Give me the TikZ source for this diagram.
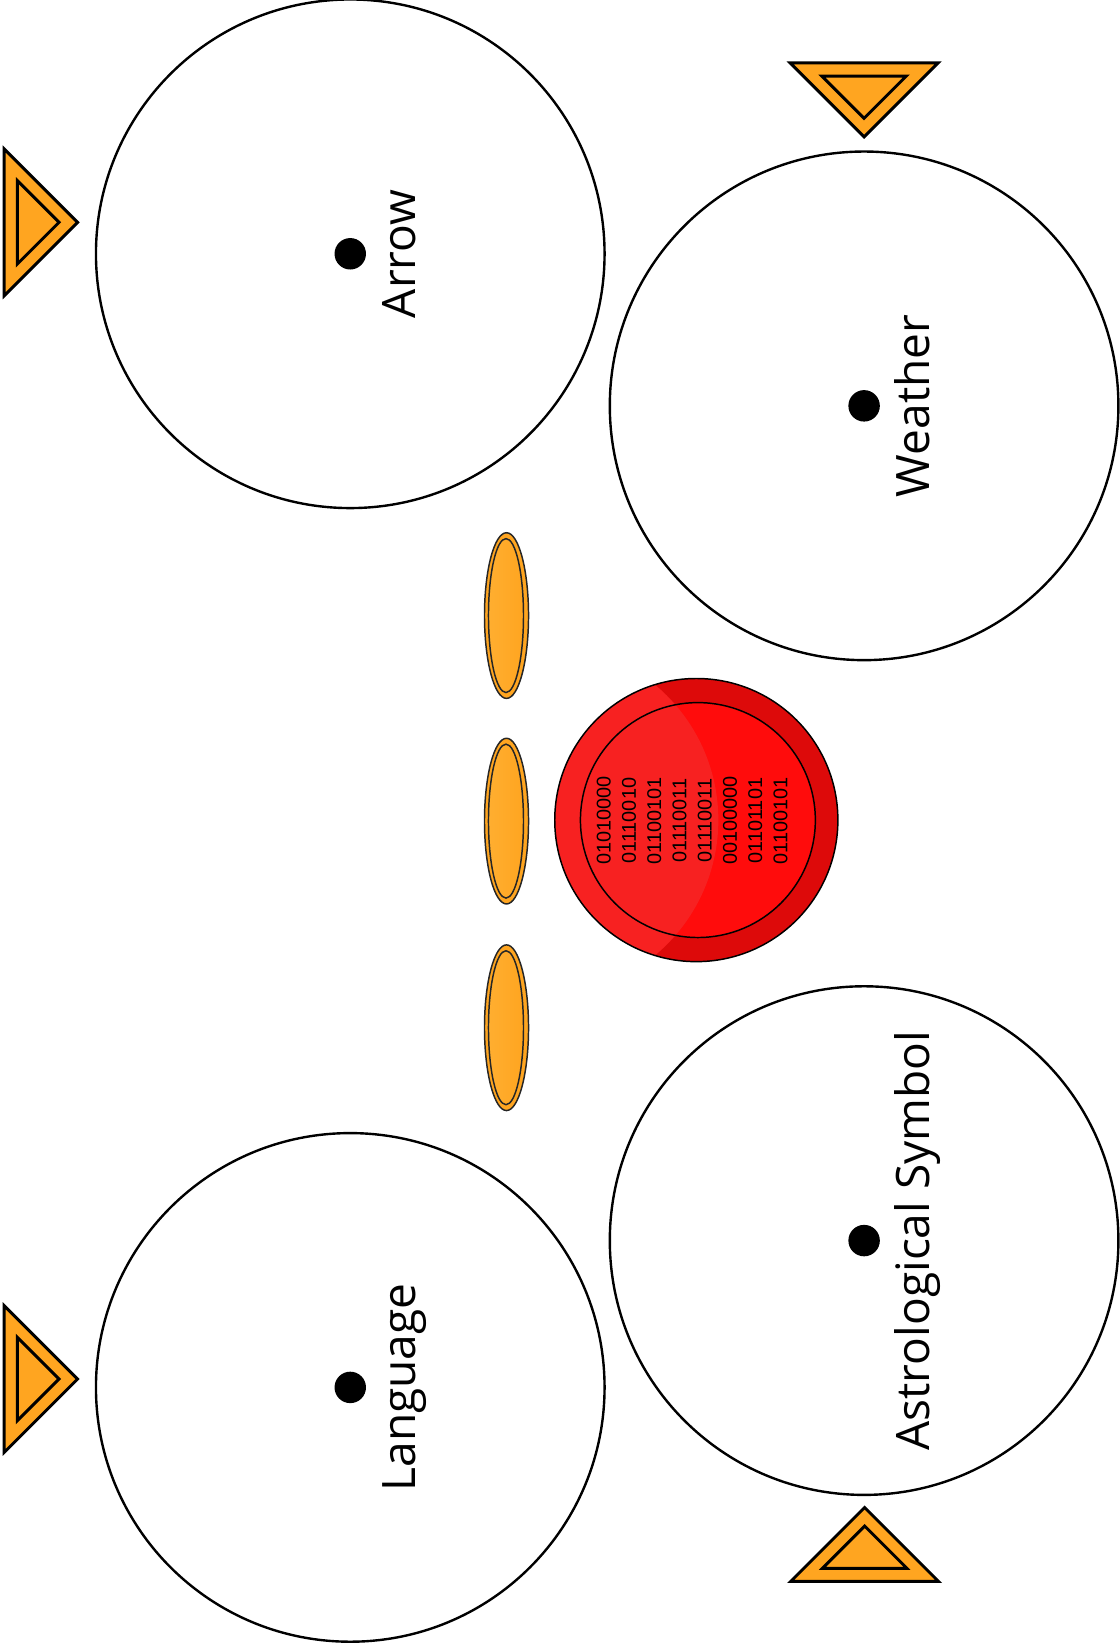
\documentclass[tikz,border=0pt]{standalone}
\usepackage{fontspec}
\setmainfont{Open Sans}
\newfontfamily\binfont{Liberation Sans}
\usepackage{tikz}
\definecolor{orng}{RGB}{255,165,32}
\definecolor{orngl}{RGB}{255,174,48}
\definecolor{reddark}{RGB}{221,10,10}
\definecolor{redbright}{RGB}{255,12,12}
\definecolor{redlight}{RGB}{247,33,33}

\begin{document}
\begin{tikzpicture}[x=0.02cm,y=-0.02cm,
		bigcirc/.style={draw=black,line width=1.3pt,fill=white},
		blob/.style={circle,fill=black,inner sep=0pt,minimum size=0.6cm},
		lbl/.style={rotate=90,anchor=base,inner sep=0pt,font=\fontsize{25}{30}\selectfont},
		tri/.style={draw=black,line width=1.6pt,fill=orng,line join=miter},
		disc/.style={draw=black!85,line width=0.8pt,fill=orng},
		discin/.style={draw=black!85,line width=0.8pt,left color=orngl,right color=orng}]
			\useasboundingbox (0,0) rectangle (1068,1567.7);
			\draw[bigcirc] (334,242) circle [radius=242.5];
			\draw[bigcirc] (824,387) circle [radius=242.5];
			\draw[bigcirc] (824,1183) circle [radius=242.5];
			\draw[bigcirc] (334,1323) circle [radius=242.5];
			\node[blob] (arrowdot) at (334,242) {};
			\node[blob] (weatherdot) at (824,387) {};
			\node[blob] (astrodot) at (824,1183) {};
			\node[blob] (langdot) at (334,1323) {};
			\node[lbl] (arrowlbl) at (396,242) {Arrow};
			\node[lbl] (weatherlbl) at (886,387) {Weather};
			\node[lbl] (astrolbl) at (886,1183) {Astrological Symbol};
			\node[lbl] (langlbl) at (396,1323) {Language};
			\draw[tri] (4,142)--(74,212)--(4,282)--cycle;
			\draw[tri] (16.5,172.2)--(56.3,212)--(16.5,251.8)--cycle;
			\draw[tri] (4,1245)--(74,1315)--(4,1385)--cycle;
			\draw[tri] (16.5,1275.2)--(56.3,1315)--(16.5,1354.8)--cycle;
			\draw[tri] (753.5,60)--(894.5,60)--(824,130.5)--cycle;
			\draw[tri] (783.7,72.5)--(864.3,72.5)--(824,112.8)--cycle;
			\draw[tri] (754,1508)--(895,1508)--(824.5,1437.5)--cycle;
			\draw[tri] (784.2,1495.5)--(864.8,1495.5)--(824.5,1455.2)--cycle;
			\foreach \y in {587,783,980} {
				\draw[disc] (483,\y) ellipse [x radius=21, y radius=79];
				\draw[discin] (482.5,\y) ellipse [x radius=16.7, y radius=73.4];
			}
			\fill[reddark] (664,782) circle [radius=135];
			\begin{scope}
				\clip (664,782) circle [radius=135];
				\fill[redlight] (517,782) circle [radius=168];
			\end{scope}
			\begin{scope}
				\clip (665.5,782) circle [radius=112];
				\fill[redbright] (665.5,782) circle [radius=112];
				\fill[redlight] (517,782) circle [radius=168];
			\end{scope}
			\draw[line width=0.8pt] (664,782) circle [radius=135];
			\draw[line width=0.8pt] (665.5,782) circle [radius=112];
			\node[rotate=90,align=center,inner sep=0pt,font=\binfont\fontsize{10.8}{13.7}\selectfont] (bits) at (660,782.5)
				{01010000\\01110010\\01100101\\01110011\\01110011\\00100000\\01101101\\01100101};
		\end{tikzpicture}
\end{document}
